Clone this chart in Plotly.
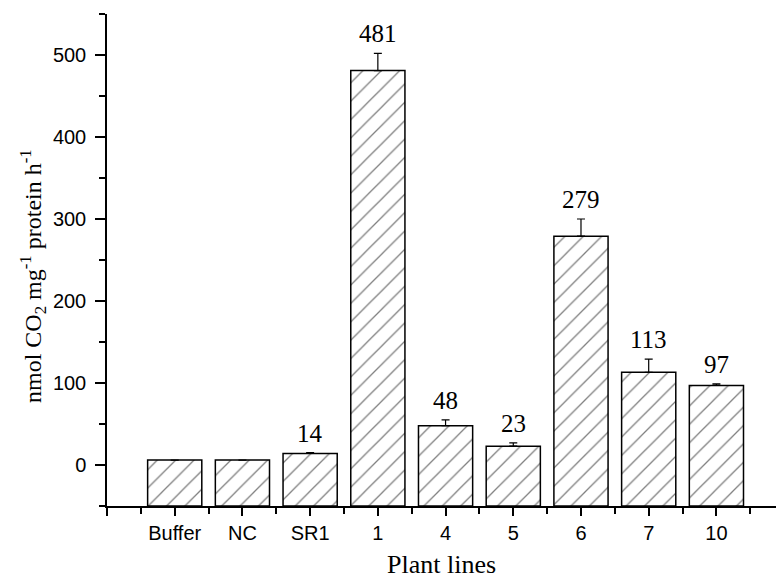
import plotly.graph_objects as go

categories = ["Buffer", "NC", "SR1", "1", "4", "5", "6", "7", "10"]
values = [6, 6, 14, 481, 48, 23, 279, 113, 97]
errors = [0, 0, 1, 21, 7, 4, 21, 16, 2]
labels = ["", "", "14", "481", "48", "23", "279", "113", "97"]
axis_floor = -50

positions = list(range(1, len(categories) + 1))

fig = go.Figure()
fig.add_trace(go.Bar(
    x=positions, y=[v - axis_floor for v in values], base=axis_floor, width=0.8,
    marker=dict(color="white", line=dict(color="black", width=1.5),
                pattern=dict(shape="/", size=13, solidity=0.1, fgcolor="black", bgcolor="white")),
    error_y=dict(type="data", symmetric=False, array=errors, arrayminus=[0]*len(errors),
                 color="black", thickness=1.2, width=4),
    showlegend=False,
))

for p, v, e, l in zip(positions, values, errors, labels):
    if l:
        fig.add_annotation(
            x=p, y=v + e, xref="x", yref="y", text=l, showarrow=False,
            xanchor="center", yanchor="bottom", yshift=4,
            font=dict(family="Liberation Serif", size=25, color="black"),
        )

fig.add_annotation(
    text="nmol CO<sub>2</sub> mg<sup>-1</sup> protein h<sup>-1</sup>",
    xref="paper", yref="paper", x=(33 - 107) / 669, y=(506 - 276) / 492,
    xanchor="center", yanchor="middle", textangle=-90, showarrow=False,
    font=dict(family="Liberation Serif", size=24, color="black"),
)
fig.add_annotation(
    text="Plant lines",
    xref="paper", yref="paper", x=(441 - 107) / 669, y=(506 - 564) / 492,
    xanchor="center", yanchor="middle", showarrow=False,
    font=dict(family="Liberation Serif", size=26, color="black"),
)

fig.update_layout(
    width=776, height=579,
    margin=dict(l=107, r=0, t=14, b=73),
    plot_bgcolor="white", paper_bgcolor="white",
    font=dict(family="Liberation Sans", size=20, color="black"),
    xaxis=dict(
        range=[0, 9.88], showline=True, linecolor="black", linewidth=1.5,
        tickvals=list(range(0, 10)), ticktext=[""] + categories,
        ticks="outside", ticklen=8, tickwidth=1.5, tickcolor="black",
        showgrid=False, zeroline=False, ticklabelstandoff=0,
        minor=dict(tickvals=[i + 0.5 for i in range(0, 10)], ticks="outside",
                   ticklen=6, tickwidth=1.5, tickcolor="black", showgrid=False),
    ),
    yaxis=dict(
        range=[-50, 550], showline=True, linecolor="black", linewidth=1.5,
        tickvals=[0, 100, 200, 300, 400, 500],
        ticks="outside", ticklen=10, tickwidth=1.5, tickcolor="black",
        showgrid=False, zeroline=False, ticklabelstandoff=5,
        minor=dict(tickvals=[-50, 50, 150, 250, 350, 450, 550], ticks="outside",
                   ticklen=6, tickwidth=1.5, tickcolor="black", showgrid=False),
    ),
)

fig.write_html("out.html")
